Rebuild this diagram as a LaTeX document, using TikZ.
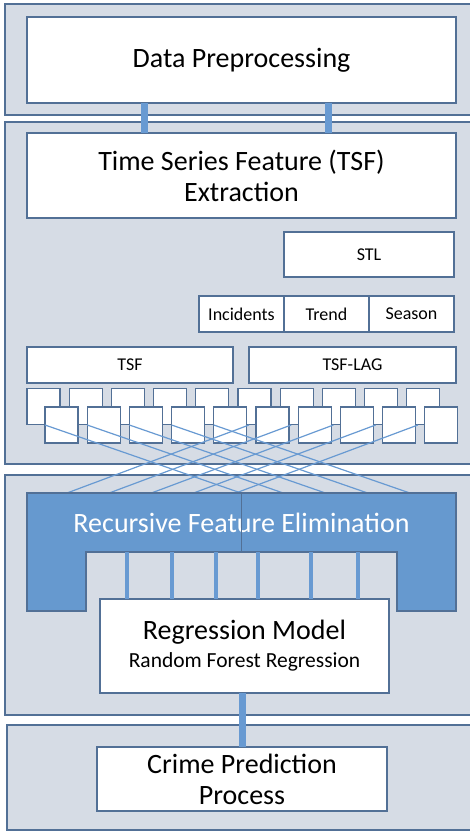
\documentclass[tikz,border=0pt]{standalone}
\usepackage{fontspec}
\setmainfont{Carlito}
\usetikzlibrary{positioning}

\definecolor{panelfill}{RGB}{214,220,229}
\definecolor{edgeblue}{RGB}{82,112,150}
\definecolor{linkblue}{RGB}{104,154,210}
\definecolor{rfefill}{RGB}{102,153,207}

\begin{document}
\begin{tikzpicture}[x=1pt, y=-1pt,
    every node/.style={font={\fontsize{28}{31}\selectfont}, outer sep=0pt, inner sep=0pt, align=center},
    panel/.style={draw=edgeblue, fill=panelfill, line width=1.3pt},
    box/.style={draw=edgeblue, fill=white, line width=1.3pt},
    smalltext/.style={font={\fontsize{18}{22}\selectfont}},
    sq/.style={box, minimum width=33pt, minimum height=36pt},
    bar/.style={draw=linkblue, line width=7pt},
    thinbar/.style={draw=linkblue, line width=4.5pt},
    cross/.style={draw=linkblue, line width=1.2pt}]
    \useasboundingbox (0,0) rectangle (470,831);
    \clip (0,0) rectangle (470,831);

    % stage panels
    \node[panel, minimum width=470pt, minimum height=111pt] (stage1) at (240,59.5) {};
    \node[panel, minimum width=470pt, minimum height=342pt] (stage2) at (240,293) {};
    \node[panel, minimum width=470pt, minimum height=240pt] (stage3) at (240,595) {};
    \node[panel, minimum width=468pt, minimum height=105pt] (stage4) at (241,777.5) {};

    % preprocessing and feature extraction
    \node[box, minimum width=429pt, minimum height=86pt] (prep) at (241.5,60) {Data Preprocessing};
    \node[box, minimum width=429pt, minimum height=85pt] (tsfx) at (241.5,175.5) {Time Series Feature (TSF)\\Extraction};
    \draw[bar] (144,0 |- prep.south) -- (144,0 |- tsfx.north);
    \draw[bar] (328,0 |- prep.south) -- (328,0 |- tsfx.north);

    \node[box, smalltext, minimum width=170pt, minimum height=45pt] (stl) at (369,254.5) {STL};
    \node[box, smalltext, minimum width=85pt, minimum height=36pt] (inc) at (241.5,314) {Incidents};
    \node[box, smalltext, minimum width=85pt, minimum height=36pt] (trend) [right=0pt of inc] {Trend};
    \node[box, smalltext, minimum width=85pt, minimum height=36pt] (season) [right=0pt of trend] {Season};

    \node[box, smalltext, minimum width=206pt, minimum height=36pt] (tsf) at (130,365) {TSF};
    \node[box, smalltext, minimum width=207pt, minimum height=36pt] (lag) at (352.5,365) {TSF-LAG};

    % feature blocks
    \foreach \i in {0,...,9}
        \node[sq] (up\i) at (43.5+42.2*\i,406.5) {};
    \foreach \i in {0,...,9}
        \node[sq] (lo\i) at (61.5+42.2*\i,425) {};

    % features fed into the selection step
    \foreach \i in {0,...,4}
        \draw[cross] (lo\i.west) -- ++(196,68);
    \foreach \i in {5,...,9}
        \draw[cross] ([xshift=-7pt]lo\i.west) -- ++(-182,68);

    % recursive feature elimination
    \fill[rfefill, draw=edgeblue, line width=1.3pt] (27,493) -- (456,493) -- (456,611) -- (397,611)
        -- (397,552) -- (86,552) -- (86,611) -- (27,611) -- cycle;
    \node[text=white, minimum width=429pt, minimum height=59pt] (rfe) at (241.5,522.5) {Recursive Feature Elimination};
    \draw[edgeblue, line width=1pt] (rfe.north) -- (rfe.south);

    \node[box, minimum width=289pt, minimum height=94pt] (rm) at (244.5,646)
        {Regression Model\\[-3pt]{\fontsize{21.5}{26}\selectfont Random Forest Regression}};
    \foreach \x in {127,172,216,258,311,358}
        \draw[thinbar] (\x,0 |- rfe.south) -- (\x,0 |- rm.north);

    % prediction
    \node[box, minimum width=290pt, minimum height=64pt] (crime) at (242,779) {Crime Prediction\\Process};
    \draw[bar] (242,0 |- rm.south) -- (242,0 |- crime.north);
\end{tikzpicture}
\end{document}
